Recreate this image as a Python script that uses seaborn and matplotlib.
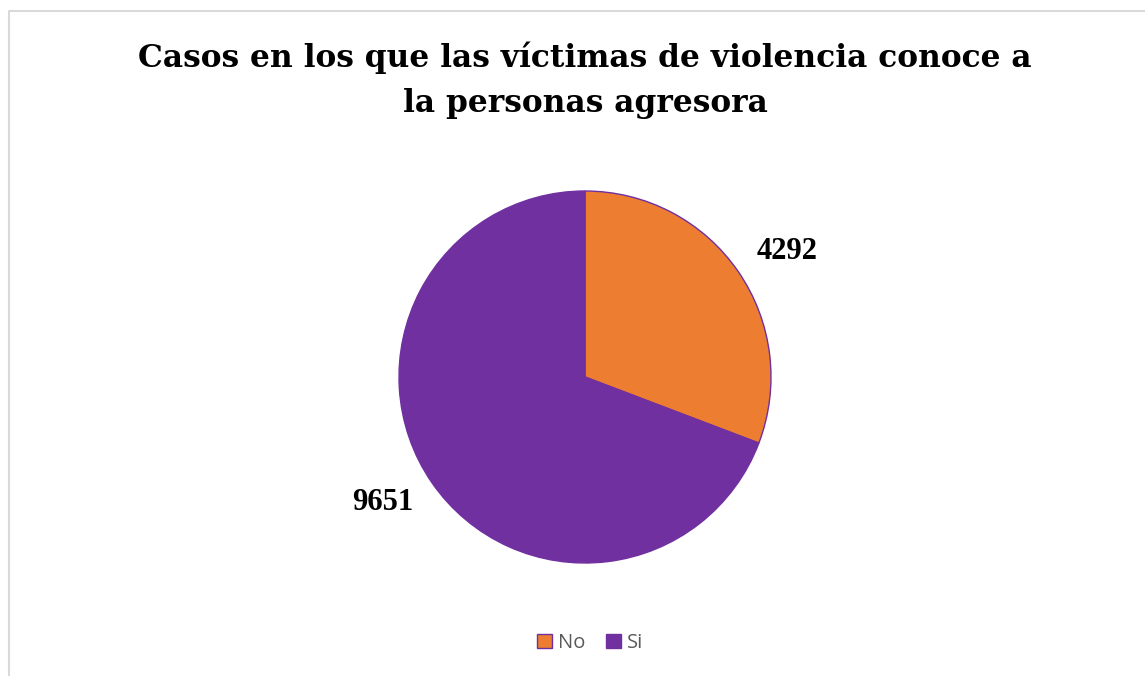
import matplotlib
matplotlib.use('Agg')
import matplotlib.pyplot as plt
from matplotlib.lines import Line2D
import numpy as np
import seaborn as sns

# datos del grafico
categorias = ['No', 'Si']
casos = [4292, 9651]
colores = ['#ED7D31', '#7030A0']
titulo = ['Casos en los que las víctimas de violencia conoce a',
          'la personas agresora']

sns.set_theme(style='white')
plt.rcParams['font.family'] = ['Liberation Serif', 'DejaVu Serif']

W, H = 1145, 676
fig = plt.figure(figsize=(W / 100, H / 100), dpi=100)
fig.patch.set_facecolor('white')

# borde gris del area del grafico
fig.add_artist(Line2D([8.5 / W, 8.5 / W, 1.0], [0.0, 1 - 10.5 / H, 1 - 10.5 / H],
                      transform=fig.transFigure, color='#d9d9d9', lw=1.5))

# ejes cuadrados para la torta (centro 585,377 ; radio 186 px)
cx, cy, r = 585, 377, 186
ax = fig.add_axes([(cx - r) / W, (H - cy - r) / H, 2 * r / W, 2 * r / H])
wedges, textos = ax.pie(
    casos,
    labels=[str(v) for v in casos],
    colors=colores,
    startangle=90,
    counterclock=False,
    labeldistance=1.28,
    wedgeprops=dict(edgecolor='#7030A0', linewidth=1),
    textprops=dict(fontsize=22, fontweight='bold', color='black',
                   ha='center', va='center', family=['Liberation Serif', 'DejaVu Serif']),
)
# Excel coloca las etiquetas un poco giradas respecto a la bisectriz
giro = np.radians(-2.8)
for t in textos:
    x, y = t.get_position()
    t.set_position((x * np.cos(giro) - y * np.sin(giro), x * np.sin(giro) + y * np.cos(giro)))
ax.set_xlim(-1, 1)
ax.set_ylim(-1, 1)
ax.axis('off')

# titulo en dos lineas
for i, linea in enumerate(titulo):
    fig.text(cx / W, 1 - (67 + 45 * i) / H, linea, ha='center', va='baseline',
             fontsize=22.5, fontweight='bold', color='black',
             family=['DejaVu Serif', 'Liberation Serif'])

leg = fig.legend(wedges, categorias, loc='center', bbox_to_anchor=(590 / W, 1 - 643 / H),
                 ncol=2, frameon=False, handlelength=0.75, handleheight=0.75,
                 handletextpad=0.3, columnspacing=1.0,
                 prop=dict(family=['Open Sans', 'DejaVu Sans'], size=14.5))
for t in leg.get_texts():
    t.set_color('#595959')

fig.savefig('out.png', dpi=100)
